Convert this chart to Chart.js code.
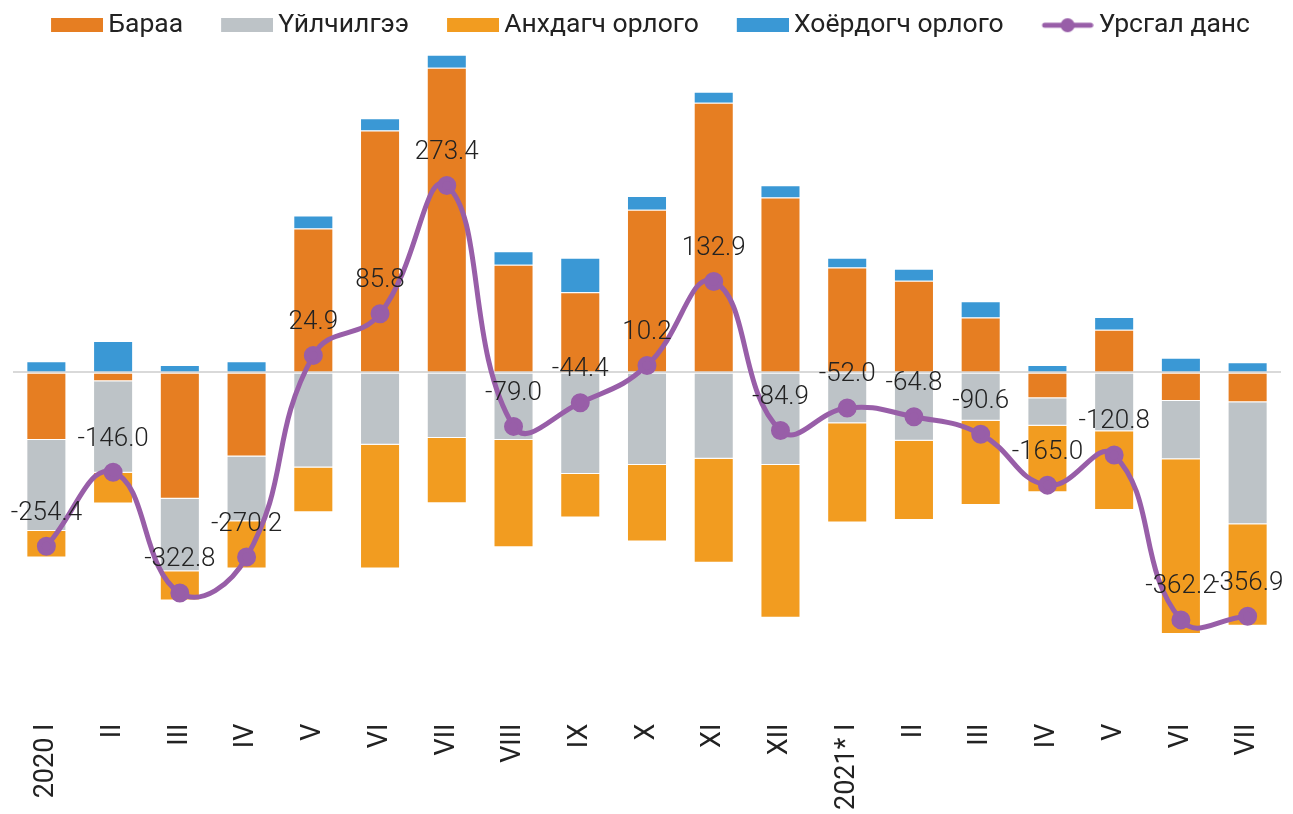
<!DOCTYPE html>
<html>
<head>
<meta charset="utf-8">
<script src="https://cdn.jsdelivr.net/npm/chart.js@4/dist/chart.umd.min.js"></script>
<style>
  html, body { margin: 0; padding: 0; background: #fff; }
  #wrap { width: 1293px; height: 814px; position: relative; }
</style>
</head>
<body>
<div id="wrap"><canvas id="c"></canvas></div>
<script>
// ---- data ----
const labels = ['2020 I', 'II', 'III', 'IV', 'V', 'VI', 'VII', 'VIII', 'IX', 'X', 'XI', 'XII',
                '2021* I', 'II', 'III', 'IV', 'V', 'VI', 'VII'];
const goods     = [-99, -13, -185, -123, 210.5, 354, 446, 157.6, 117.3, 238, 394.7, 256, 153.6, 134, 80.5, -38, 62.5, -42, -43.6];
const services  = [-133, -134, -106, -95, -139, -106, -96, -99, -148.5, -135.5, -126.5, -135.5, -74.5, -100, -70.6, -40, -86.3, -85, -178.8];
const primary   = [-39, -45, -42.8, -69, -65.7, -181, -95.5, -157, -64, -112, -152, -223.4, -145, -116, -123.5, -97.5, -115, -256, -148.5];
const secondary = [16.5, 46, 11, 16.5, 19, 18, 19, 19.6, 50.5, 20, 16, 18, 14.3, 17.6, 23.5, 11, 18.7, 21.3, 15];
const current   = [-254.4, -146.0, -322.8, -270.2, 24.9, 85.8, 273.4, -79.0, -44.4, 10.2, 132.9, -84.9, -52.0, -64.8, -90.6, -165.0, -120.8, -362.2, -356.9];

const ORANGE = '#E67E22';
const GREY = '#BDC3C7';
const AMBER = '#F29C20';
const BLUE = '#3A98D5';
const PURPLE = '#985EA8';

Chart.defaults.font.family = "Roboto, 'Noto Sans', sans-serif";
Chart.defaults.color = '#222';

// legend icons: 88px canvas, shape sits at the right end so the gap to the
// text stays small and the free space falls between legend items
function rectIcon(color) {
    const cv = document.createElement('canvas');
    cv.width = 88; cv.height = 14;
    const g = cv.getContext('2d');
    g.fillStyle = color;
    g.fillRect(36, 0, 52, 14);
    return cv;
}
function lineIcon(color) {
    const cv = document.createElement('canvas');
    cv.width = 88; cv.height = 16;
    const g = cv.getContext('2d');
    g.strokeStyle = color; g.lineWidth = 5; g.lineCap = 'round';
    g.beginPath(); g.moveTo(39, 8); g.lineTo(85, 8); g.stroke();
    g.fillStyle = color;
    g.beginPath(); g.arc(62, 8, 7, 0, Math.PI * 2); g.fill();
    return cv;
}
const icons = [rectIcon(ORANGE), rectIcon(GREY), rectIcon(AMBER), rectIcon(BLUE), lineIcon(PURPLE)];

// value labels above the line points
const lineLabels = {
    id: 'lineLabels',
    afterDatasetsDraw(chart) {
        const ctx = chart.ctx;
        const meta = chart.getDatasetMeta(4);
        ctx.save();
        ctx.font = "300 26px Roboto, 'Noto Sans', sans-serif";
        ctx.fillStyle = '#222';
        ctx.textAlign = 'center';
        ctx.textBaseline = 'middle';
        meta.data.forEach((pt, i) => {
            ctx.fillText(current[i].toFixed(1), pt.x, pt.y - 33);
        });
        ctx.restore();
    }
};

const barDefaults = { type: 'bar', borderWidth: 1, borderColor: 'rgba(255,255,255,0.55)', stack: 'bop', order: 0 };

new Chart(document.getElementById('c'), {
    data: {
        labels,
        datasets: [
            { ...barDefaults, label: 'Бараа', data: goods, backgroundColor: ORANGE },
            { ...barDefaults, label: 'Үйлчилгээ', data: services, backgroundColor: GREY },
            { ...barDefaults, label: 'Анхдагч орлого', data: primary, backgroundColor: AMBER },
            { ...barDefaults, label: 'Хоёрдогч орлого', data: secondary, backgroundColor: BLUE },
            {
                type: 'line', label: 'Урсгал данс', data: current, stack: 'line', order: -1,
                borderColor: PURPLE, backgroundColor: PURPLE, borderWidth: 5,
                pointRadius: 7, pointHoverRadius: 7, tension: 0.45, fill: false,
            },
        ],
    },
    options: {
        responsive: true, maintainAspectRatio: false,
        animation: false,
        layout: { padding: { top: 2, left: 13, right: 6, bottom: 4 } },
        datasets: { bar: { categoryPercentage: 1, barPercentage: 0.6 } },
        plugins: {
            legend: {
                position: 'top',
                labels: {
                    font: { size: 26.5 },
                    color: '#222',
                    usePointStyle: true,
                    pointStyleWidth: 72,
                    boxHeight: 14,
                    padding: 10,
                    sort: (a, b) => a.datasetIndex - b.datasetIndex,
                    generateLabels: chart => Chart.defaults.plugins.legend.labels.generateLabels(chart)
                        .map(l => ({
                            ...l,
                            pointStyle: icons[l.datasetIndex],
                            text: l.datasetIndex === 4 ? l.text + '\u2002\u2002' : l.text,
                        })),
                },
            },
            tooltip: { enabled: false },
        },
        scales: {
            x: {
                stacked: true,
                grid: { display: false, drawTicks: false },
                border: { display: false },
                ticks: { minRotation: 90, maxRotation: 90, padding: 0, font: { size: 27 }, color: '#222' },
            },
            y: {
                stacked: true,
                min: -514, max: 474,
                grid: {
                    drawTicks: false,
                    lineWidth: 2,
                    color: c => (c.tick && c.tick.value === 0 ? '#D9D9D9' : 'rgba(0,0,0,0)'),
                },
                border: { display: false },
                ticks: { display: false, stepSize: 100 },
            },
        },
    },
    plugins: [lineLabels],
});
</script>
</body>
</html>
